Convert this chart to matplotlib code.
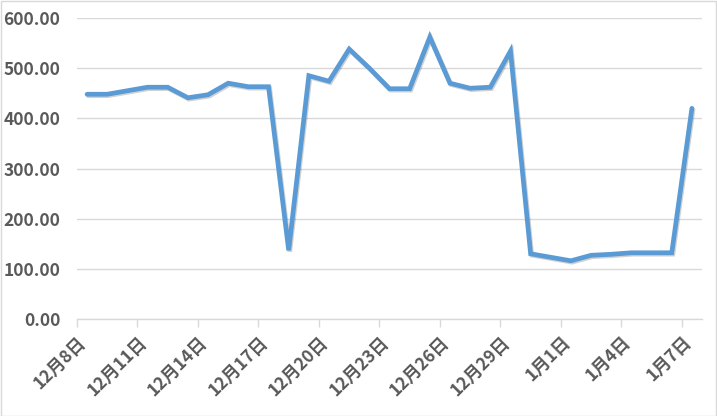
import matplotlib
matplotlib.use("Agg")
import matplotlib.pyplot as plt
import matplotlib.patheffects as pe
from matplotlib.patches import Rectangle
import numpy as np

plt.rcParams['font.family'] = ['Noto Sans CJK SC', 'DejaVu Sans']

dates = ["12月8日", "12月9日", "12月10日", "12月11日", "12月12日", "12月13日", "12月14日",
         "12月15日", "12月16日", "12月17日", "12月18日", "12月19日", "12月20日", "12月21日",
         "12月22日", "12月23日", "12月24日", "12月25日", "12月26日", "12月27日", "12月28日",
         "12月29日", "12月30日", "12月31日", "1月1日", "1月2日", "1月3日", "1月4日",
         "1月5日", "1月6日", "1月7日"]
values = [448, 448, 455, 462, 462, 441, 447, 470, 463, 463, 137, 485, 474, 538, 500,
          459, 459, 562, 470, 460, 462, 534, 130, 123, 116, 127, 129, 132, 132, 132, 420]
yticks = [0, 100, 200, 300, 400, 500, 600]

W, H = 717, 416
fig = plt.figure(figsize=(W / 100, H / 100), dpi=100)
fig.patches.append(Rectangle((0.5 / W, 0.5 / H), 1 - 1.5 / W, 1 - 1.5 / H, transform=fig.transFigure,
                             fill=False, edgecolor='#D9D9D9', linewidth=1))
ax = fig.add_axes([77 / W, (H - 319) / H, (702 - 77) / W, (319 - 18) / H])

n = len(dates)
x = np.arange(n) + 0.5
ax.plot(x, values, color='#5B9BD5', linewidth=3.4, solid_joinstyle='miter', solid_capstyle='round',
        path_effects=[pe.SimpleLineShadow(offset=(0.8, -1.0), shadow_color='black', alpha=0.18),
                      pe.Normal()], zorder=3)

ax.set_xlim(0, n)
ax.set_ylim(0, 600)
ax.set_yticks(yticks)
ax.set_yticklabels([f"{v:.2f}" for v in yticks], fontsize=12.5, color='#595959', fontweight='bold')
ax.grid(axis='y', color='#D9D9D9', linewidth=1)
ax.set_axisbelow(True)

tick_pos = np.arange(0, n, 3)
ax.set_xticks(tick_pos)
ax.set_xticklabels([dates[i] for i in tick_pos], rotation=45, ha='right', rotation_mode='anchor',
                   fontsize=12.5, color='#595959', fontweight='bold')
ax.tick_params(axis='x', length=6, color='#D9D9D9', width=1, pad=4)
ax.tick_params(axis='y', length=0, pad=12)

for s in ['top', 'right', 'left']:
    ax.spines[s].set_visible(False)
ax.spines['bottom'].set_color('#D9D9D9')
ax.spines['bottom'].set_linewidth(1)

fig.savefig("out.png", dpi=100)
